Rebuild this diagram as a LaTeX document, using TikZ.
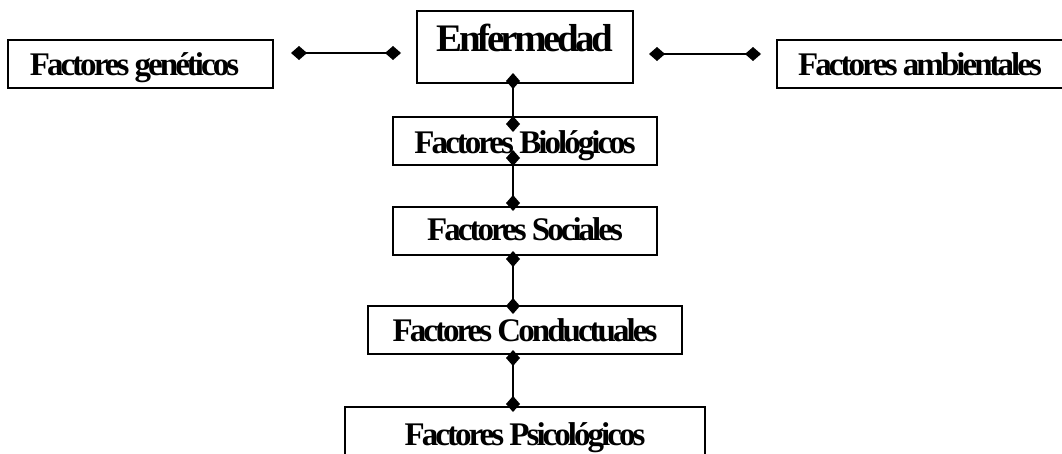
\documentclass[tikz,border=0pt]{standalone}
\usepackage{fontspec}
\setmainfont{Liberation Serif}[LetterSpace=-9]
\usetikzlibrary{arrows.meta,calc}
\tikzset{
  box/.style={draw, line width=2.3pt, inner sep=0pt, outer sep=0pt, anchor=north west, align=center,
    font=\fontsize{33}{36}\selectfont\bfseries},
  conn/.style={line width=2.6pt, {Diamond[length=16pt,width=14pt]}-{Diamond[length=16pt,width=14pt]}},
}
\begin{document}
\begin{tikzpicture}[x=1pt,y=-1pt]
\clip (0,0) rectangle (1062,453);
\fill[white] (0,0) rectangle (1062,453);
\node[box, minimum width=265pt, text height=35pt, text depth=13pt] (gen) at (8,40) {\hspace*{-12pt}Factores genéticos};
\node[box, minimum width=216pt, text height=40pt, text depth=32pt, font=\fontsize{39}{42}\selectfont\bfseries] (enf) at (417,11) {Enfermedad};
\node[box, minimum width=290pt, text height=35pt, text depth=13pt] (amb) at (777,40) {Factores ambientales\hspace*{4pt}};
\node[box, minimum width=264pt, text height=36pt, text depth=12pt] (bio) at (393,117) {Factores Biológicos};
\node[box, minimum width=264pt, text height=33pt, text depth=15pt] (soc) at (393,207) {Factores Sociales};
\node[box, minimum width=314pt, text height=35pt, text depth=13pt] (con) at (368,306) {Factores Conductuales};
\node[box, minimum width=360pt, text height=38pt, text depth=22pt] (psi) at (345,407) {Factores Psicológicos};
\draw[conn] ($(gen.north east)+(18,13)$) -- ($(enf.north west)+(-16,42)$);
\draw[conn] ($(enf.north east)+(16,43)$) -- ($(amb.north west)+(-16,14)$);
\draw[conn] ($(enf.south)+(-12,-10)$) -- ($(bio.north)+(-12,15)$);
\draw[conn] ($(bio.south)+(-12,-15)$) -- ($(soc.north)+(-12,4)$);
\draw[conn] ($(soc.south)+(-12,-4)$) -- ($(con.north)+(-12,8)$);
\draw[conn] ($(con.south)+(-12,-4)$) -- ($(psi.north)+(-12,5)$);
\end{tikzpicture}
\end{document}
